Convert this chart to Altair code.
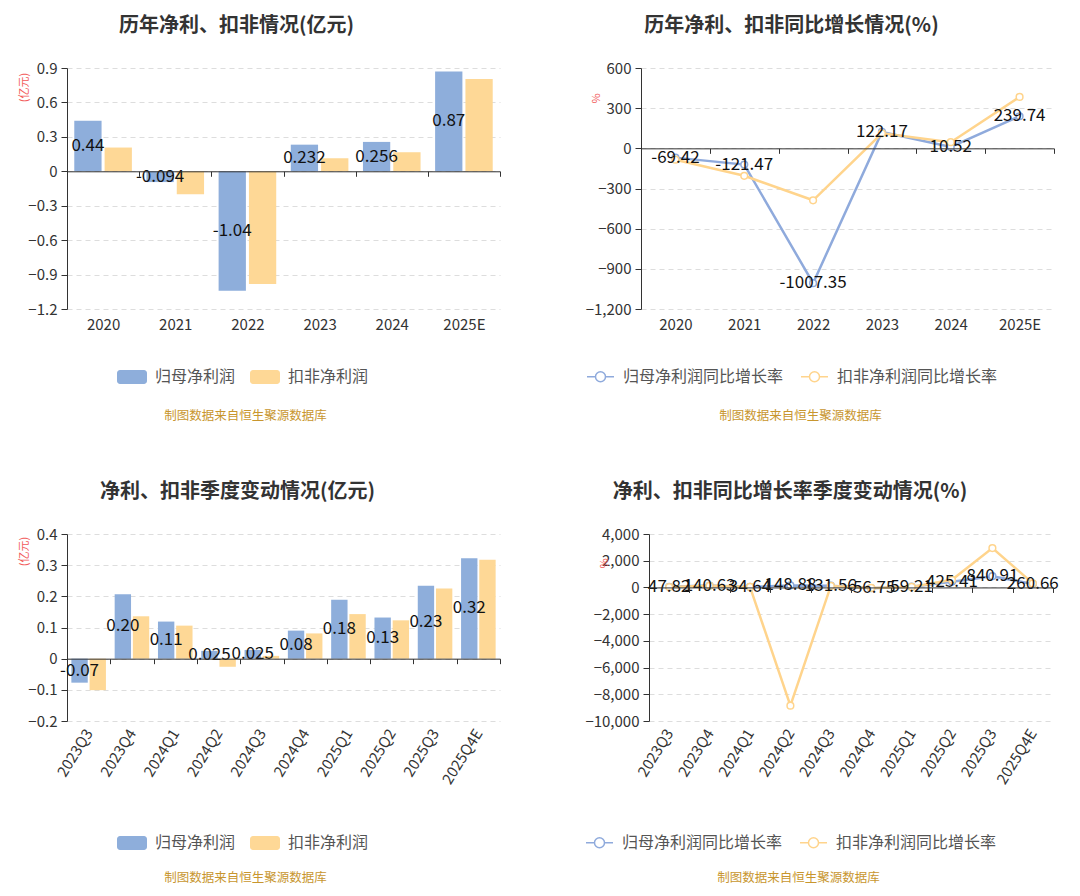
import altair as alt
import pandas as pd

# ---------------- data ----------------
years = ["2020", "2021", "2022", "2023", "2024", "2025E"]
np_year = [0.44, -0.094, -1.04, 0.232, 0.256, 0.87]
np_year_labels = ["0.44", "-0.094", "-1.04", "0.232", "0.256", "0.87"]
dnp_year = [0.207, -0.201, -0.982, 0.114, 0.166, 0.804]

np_yoy_year = [-69.42, -121.47, -1007.35, 122.17, 10.52, 239.74]
np_yoy_year_labels = ["-69.42", "-121.47", "-1007.35", "122.17", "10.52", "239.74"]
dnp_yoy_year = [-85, -205, -388, 112, 46, 384]

quarters = ["2023Q3", "2023Q4", "2024Q1", "2024Q2", "2024Q3",
            "2024Q4", "2025Q1", "2025Q2", "2025Q3", "2025Q4E"]
np_q = [-0.077, 0.207, 0.119, 0.025, 0.028, 0.090, 0.189, 0.132, 0.234, 0.322]
np_q_labels = ["-0.07", "0.20", "0.11", "0.025", "0.025", "0.08", "0.18", "0.13", "0.23", "0.32"]
dnp_q = [-0.101, 0.136, 0.106, -0.026, 0.009, 0.081, 0.143, 0.123, 0.225, 0.317]

np_yoy_q = [47.82, 140.63, 34.64, 148.88, 131.56, -56.75, 59.21, 425.41, 840.91, 260.66]
np_yoy_q_labels = ["47.82", "140.63", "34.64", "148.88", "131.56", "-56.75", "59.21", "425.41", "840.91", "260.66"]
dnp_yoy_q = [30, 120, 40, -8850, 109, -40, 35, 573, 2950, 300]

ticks_year_amt = [-1.2, -0.9, -0.6, -0.3, 0, 0.3, 0.6, 0.9]
ticks_year_pct = [-1200, -900, -600, -300, 0, 300, 600]
ticks_q_amt = [-0.2, -0.1, 0, 0.1, 0.2, 0.3, 0.4]
ticks_q_pct = [-10000, -8000, -6000, -4000, -2000, 0, 2000, 4000]

S1, S2 = "归母净利润", "扣非净利润"
L1, L2 = "归母净利润同比增长率", "扣非净利润同比增长率"
SRC = "制图数据来自恒生聚源数据库"

# ---------------- styles ----------------
BLUE, ORANGE = "#8EAEDB", "#FED896"
LBLUE, LORANGE = "#8FAADC", "#FFD48C"
GOLD = "#C8962E"
RED = "#F25A5A"
AX = "#333333"
FONT = "Noto Sans CJK SC"
AXFS = 15
LABFS = 17

RECT = ("M-0.8,-0.47H0.8A0.2,0.2,0,0,1,1,-0.27V0.27A0.2,0.2,0,0,1,0.8,0.47"
        "H-0.8A0.2,0.2,0,0,1,-1,0.27V-0.27A0.2,0.2,0,0,1,-0.8,-0.47Z")
LSYM = ("M-1,0L-0.37,0M0.37,0L1,0M-0.37,0A0.37,0.37,0,1,0,0.37,0"
        "A0.37,0.37,0,1,0,-0.37,0Z")


def x_axis(H, zero_px, angle, src_x, src_y):
    rotated = angle != 0
    return alt.Axis(
        offset=zero_px - H,
        labelPadding=H - zero_px + (4 if rotated else 3),
        tickBand="extent", tickSize=5, tickColor=AX, domainColor=AX,
        labelAngle=angle,
        labelAlign="right" if rotated else "center",
        labelBaseline="middle" if rotated else "top",
        labelFontSize=AXFS, labelColor=AX, grid=False,
        title=SRC, titleColor=GOLD, titleFontSize=12.5, titleFontWeight="normal",
        titleX=src_x, titleY=src_y, titleAlign="center", titleBaseline="middle",
        zindex=1,
    )


def y_axis(values, fmt, unit, ux, uy):
    return alt.Axis(
        values=values, format=fmt,
        title=unit, titleColor=RED, titleFontSize=11, titleFontWeight="normal",
        titleX=ux, titleY=uy, titleAlign="center", titleBaseline="middle", titleAngle=270,
        labelFontSize=AXFS, labelColor=AX, labelPadding=4,
        tickSize=6, tickColor=AX, domainColor=AX,
        grid=True, gridColor="#DDDDDD", gridDash=[5, 4], zindex=0,
    )


def mk_title(text, dx):
    return alt.TitleParams(text=text, fontSize=20, fontWeight="bold", color="#333333",
                           anchor="middle", frame="group", dx=dx, offset=25)


def mk_legend(legx, legy, symbol, size, sw, fill=None):
    kw = dict(orient="none", legendX=legx, legendY=legy, direction="horizontal", title=None,
              symbolType=symbol, symbolSize=size, symbolStrokeWidth=sw,
              labelFontSize=16, labelColor="#555555", labelLimit=400,
              columnPadding=14, labelOffset=8)
    if fill:
        kw["symbolFillColor"] = fill
    return alt.Legend(**kw)


def bar_panel(cats, v1, v2, labels, yr, ticks, W, H, angle, title, tdx,
              legx, legy, srcx, srcy, ux, uy):
    n = len(cats)
    df = pd.DataFrame({"cat": cats * 2, "series": [S1] * n + [S2] * n, "value": v1 + v2})
    lab = pd.DataFrame({"cat": cats, "series": [S1] * n, "value": v1, "label": labels})
    zero_px = H * yr[1] / (yr[1] - yr[0])
    x = alt.X("cat:N", sort=cats, title=SRC,
              scale=alt.Scale(type="band", paddingInner=0, paddingOuter=0),
              axis=x_axis(H, zero_px, angle, srcx, srcy))
    xo = alt.XOffset("series:N", sort=[S1, S2],
                     scale=alt.Scale(domain=[S1, S2], paddingInner=0.1, paddingOuter=0.24))
    y = alt.Y("value:Q", title="(亿元)",
              scale=alt.Scale(domain=list(yr), nice=False, zero=False),
              axis=y_axis(ticks, ".1~f", "(亿元)", ux, uy))
    color = alt.Color("series:N", scale=alt.Scale(domain=[S1, S2], range=[BLUE, ORANGE]),
                      legend=mk_legend(legx, legy, RECT, 900, 0))
    bars = alt.Chart(df).mark_bar().encode(x=x, xOffset=xo, y=y, color=color)
    text = (alt.Chart(lab).transform_calculate(value="datum.value / 2")
            .mark_text(fontSize=LABFS, color="#111111")
            .encode(x=x, xOffset=xo, y=y, text="label:N"))
    return alt.layer(bars, text).properties(width=W, height=H, title=mk_title(title, tdx))


def line_panel(cats, v1, v2, labels, yr, ticks, W, H, angle, title, tdx,
               legx, legy, srcx, srcy, ux, uy):
    n = len(cats)
    df = pd.DataFrame({"cat": cats * 2, "series": [L1] * n + [L2] * n, "value": v1 + v2})
    lab = pd.DataFrame({"cat": cats, "series": [L1] * n, "value": v1, "label": labels})
    zero_px = H * yr[1] / (yr[1] - yr[0])
    x = alt.X("cat:N", sort=cats, title=SRC, bandPosition=0.5,
              scale=alt.Scale(type="band", paddingInner=0, paddingOuter=0),
              axis=x_axis(H, zero_px, angle, srcx, srcy))
    y = alt.Y("value:Q", title="%",
              scale=alt.Scale(domain=list(yr), nice=False, zero=False),
              axis=y_axis(ticks, ",~f", "%", ux, uy))
    color = alt.Color("series:N", scale=alt.Scale(domain=[L1, L2], range=[LBLUE, LORANGE]),
                      legend=mk_legend(legx, legy, LSYM, 729, 1.5, "white"))
    lines = alt.Chart(df).mark_line(strokeWidth=2.5).encode(x=x, y=y, color=color)
    pts = alt.Chart(df).mark_point(shape="circle", filled=False, fill="white", size=45,
                                   strokeWidth=1.5, opacity=1).encode(x=x, y=y, color=color)
    text = (alt.Chart(lab).mark_text(fontSize=LABFS, color="#111111")
            .encode(x=x, y=y, text="label:N"))
    return alt.layer(lines, pts, text).properties(width=W, height=H, title=mk_title(title, tdx))


# plot areas (px): top plots y 70..311, bottom y 534..721
p1 = bar_panel(years, np_year, dnp_year, np_year_labels, (-1.2, 0.9), ticks_year_amt,
               433, 241, 0, "历年净利、扣非情况(亿元)", -47,
               50, 294, 178, 417 - (70 + 241 * 0.9 / 2.1), -43, 19)
p2 = line_panel(years, np_yoy_year, dnp_yoy_year, np_yoy_year_labels, (-1200, 600), ticks_year_pct,
                413, 241, 0, "历年净利、扣非同比增长情况(%)", -56,
                -55, 294, 159, 417 - (70 + 241 * 600 / 1800), -45, 30)
p3 = bar_panel(quarters, np_q, dnp_q, np_q_labels, (-0.2, 0.4), ticks_q_amt,
               433, 187, -58, "净利、扣非季度变动情况(亿元)", -46,
               50, 294, 178, 877 - (534 + 187 * 0.4 / 0.6), -43, 17)
p4 = line_panel(quarters, np_yoy_q, dnp_yoy_q, np_yoy_q_labels, (-10000, 4000), ticks_q_pct,
                404, 187, -58, "净利、扣非同比增长率季度变动情况(%)", -61,
                -64, 294, 149, 877 - (534 + 187 * 4000 / 14000), -45, 29)

top = (alt.hconcat(p1, p2, spacing=83)
       .resolve_scale(color="independent", xOffset="independent")
       .resolve_legend(color="independent"))
bottom = (alt.hconcat(p3, p4, spacing=83)
          .resolve_scale(color="independent", xOffset="independent")
          .resolve_legend(color="independent"))
chart = (alt.vconcat(top, bottom, spacing=59)
         .resolve_scale(color="independent", xOffset="independent")
         .resolve_legend(color="independent")
         .configure(font=FONT, padding={"left": 9, "top": 7, "right": 5, "bottom": 5})
         .configure_view(stroke="transparent")
         .configure_axis(labelFont=FONT, titleFont=FONT)
         .configure_legend(labelFont=FONT, padding=0)
         .configure_title(font=FONT))

chart.save("out.html", embed_options={"renderer": "svg", "actions": False})
